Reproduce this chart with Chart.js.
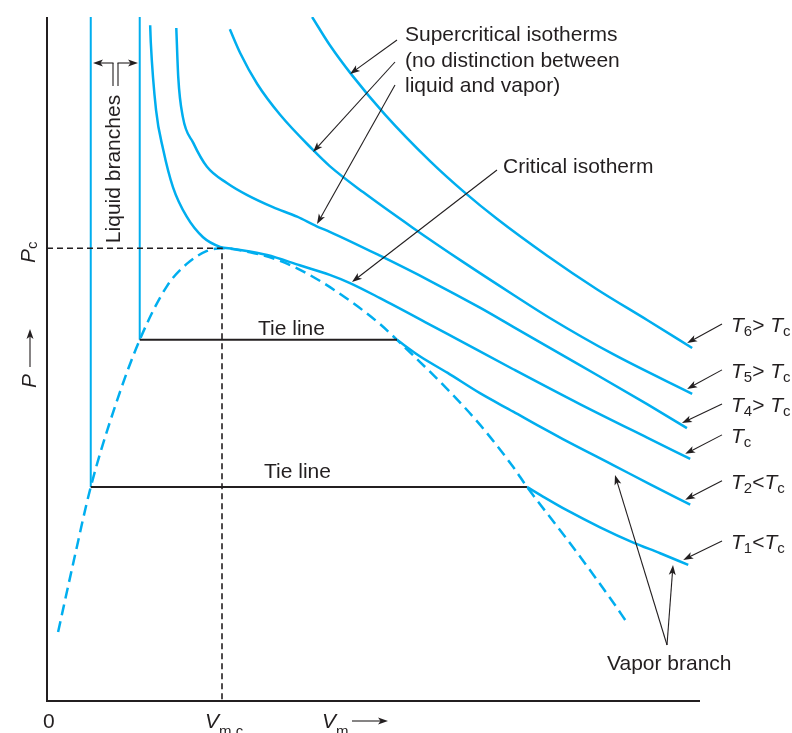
<!DOCTYPE html>
<html>
<head>
<meta charset="utf-8">
<script src="https://cdn.jsdelivr.net/npm/chart.js@4.4.1/dist/chart.umd.min.js"></script>
<style>
  html, body { margin: 0; padding: 0; background: #fff; }
  #wrap { width: 792px; height: 733px; }
</style>
</head>
<body>
<div id="wrap"><canvas id="pv" width="792" height="733"></canvas></div>
<script>
// P-V diagram, arbitrary units: molar volume 0..100, pressure 0..100
const critV = 26.8, critP = 66.2;

// supercritical isotherms
const t6V = [40.6, 43.3, 46.7, 51.8, 58.7, 63.9, 68.9, 76.6, 84.2, 91.9, 98.8];
const t6P = [100, 95.9, 91.5, 85.7, 78.9, 74.4, 70.5, 65.1, 60.2, 55.7, 51.6];
const t5V = [28.0, 29.6, 32.2, 35.7, 40.7, 43.3, 48.4, 56.0, 63.7, 71.4, 77.0, 86.7, 98.8];
const t5P = [98.2, 94.7, 90.2, 85.7, 80.6, 78.2, 74.4, 69.2, 64.2, 59.4, 56.0, 50.7, 44.9];
const t4V = [19.8, 20.1, 20.8, 22.4, 24.5, 27.6, 30.6, 34.6, 38.3, 41.3, 43.3, 51.0, 58.7, 66.3, 71.4, 81.6, 91.9, 98.0];
const t4P = [98.4, 91.2, 85.4, 81.6, 78.1, 75.7, 74.0, 72.2, 70.8, 69.4, 68.6, 65.1, 61.4, 57.5, 54.7, 49.1, 43.4, 39.9];

// critical isotherm
const tcV = [15.8, 15.9, 16.7, 17.8, 19.3, 21.4, 23.9, 26.5, 28.5, 33.7, 38.7, 43.3, 46.4, 51.0, 58.7, 62.8, 71.4, 81.6, 91.9, 98.5];
const tcP = [98.8, 96.2, 86.4, 80.6, 75.1, 70.8, 67.8, 66.4, 66.1, 65.2, 63.7, 62.3, 61.1, 58.9, 55.0, 52.9, 48.5, 43.4, 38.5, 35.4];

// subcritical isotherms: liquid branch volume, tie line pressure, vapor branch
const t2LiqV = 14.2, t2TieP = 52.8;
const t2VapV = [53.6, 57.1, 61.3, 66.3, 71.4, 75.5, 79.0, 86.7, 92.3, 98.5];
const t2VapP = [52.8, 50.4, 48.0, 45.0, 42.3, 40.1, 38.3, 34.5, 31.7, 28.7];
const t1LiqV = 6.7, t1TieP = 31.3;
const t1VapV = [73.5, 76.3, 79.6, 84.7, 89.7, 93.9, 98.2];
const t1VapP = [31.3, 29.7, 27.9, 25.4, 23.2, 21.6, 19.9];

// two-phase dome (dashed)
const domeV = [1.7, 4.1, 6.7, 10.4, 14.2, 18.4, 21.4, 24.5, 26.8, 31.1, 36.1, 41.3, 46.4, 51.0, 53.6, 56.0, 61.3, 66.3, 71.4, 73.5, 79.6, 86.2, 88.8];
const domeP = [10.1, 20.5, 31.3, 43.0, 52.8, 60.7, 63.9, 65.8, 66.2, 65.6, 64.2, 61.7, 58.5, 55.1, 52.8, 50.6, 45.6, 40.4, 34.2, 31.3, 23.7, 15.1, 11.5];

const blue = '#00aeef';
const ink = '#231f20';
const FONT = '"Liberation Sans", Arial, Helvetica, sans-serif';

const pts = (v, p) => v.map((x, i) => ({ x, y: p[i] }));
const line = (data, extra) => Object.assign({
  data, showLine: true, fill: false, pointRadius: 0,
  borderColor: blue, borderWidth: 2.5, cubicInterpolationMode: 'monotone'
}, extra);

// right hand labels, in the same order as the isotherm datasets
const isoLabels = [
  [['T', 1], ['6', 2], ['> ', 0], ['T', 1], ['c', 2]],
  [['T', 1], ['5', 2], ['> ', 0], ['T', 1], ['c', 2]],
  [['T', 1], ['4', 2], ['> ', 0], ['T', 1], ['c', 2]],
  [['T', 1], ['c', 2]],
  [['T', 1], ['2', 2], ['<', 0], ['T', 1], ['c', 2]],
  [['T', 1], ['1', 2], ['<', 0], ['T', 1], ['c', 2]]
];

function rich(ctx, parts, x, y, subDy) {
  parts.forEach(([t, kind]) => {
    const sub = kind === 2;
    ctx.font = (kind === 1 ? 'italic ' : '') + (sub ? 15 : 21) + 'px ' + FONT;
    ctx.fillText(t, x, y + (sub ? subDy : 0));
    x += ctx.measureText(t).width;
  });
}

function arrow(ctx, x1, y1, x2, y2) {
  const a = Math.atan2(y2 - y1, x2 - x1), L = 10, W = 3.5;
  ctx.beginPath();
  ctx.moveTo(x1, y1);
  ctx.lineTo(x2 - Math.cos(a) * L * 0.7, y2 - Math.sin(a) * L * 0.7);
  ctx.stroke();
  ctx.beginPath();
  ctx.moveTo(x2, y2);
  ctx.lineTo(x2 - L * Math.cos(a) + W * Math.sin(a), y2 - L * Math.sin(a) - W * Math.cos(a));
  ctx.lineTo(x2 - L * Math.cos(a) * 0.75, y2 - L * Math.sin(a) * 0.75);
  ctx.lineTo(x2 - L * Math.cos(a) - W * Math.sin(a), y2 - L * Math.sin(a) + W * Math.cos(a));
  ctx.closePath();
  ctx.fill();
}

const annot = {
  id: 'annot',
  beforeDatasetsDraw(chart) {
    const { ctx, scales: { x, y } } = chart;
    ctx.save();
    ctx.strokeStyle = ink;
    ctx.lineWidth = 2;
    ctx.beginPath();
    ctx.moveTo(x.getPixelForValue(0), y.getPixelForValue(100));
    ctx.lineTo(x.getPixelForValue(0), y.getPixelForValue(0));
    ctx.lineTo(x.getPixelForValue(100), y.getPixelForValue(0));
    ctx.stroke();
    ctx.restore();
  },
  afterDatasetsDraw(chart) {
    const { ctx, scales: { x, y } } = chart;
    ctx.save();
    ctx.fillStyle = ink;
    ctx.strokeStyle = ink;
    ctx.lineWidth = 1.1;
    ctx.textBaseline = 'alphabetic';

    // isotherm labels at the right ends
    [t6V, t5V, t4V, tcV, t2VapV, t1VapV].forEach((v, i) => {
      const p = [t6P, t5P, t4P, tcP, t2VapP, t1VapP][i];
      const ex = x.getPixelForValue(v[v.length - 1]) - 5;
      const ey = y.getPixelForValue(p[p.length - 1]) - 5;
      arrow(ctx, 722, ey - 19, ex, ey);
      rich(ctx, isoLabels[i], 731, ey - 11, 4);
    });

    // text annotations
    ctx.font = '21px ' + FONT;
    ctx.fillText('Supercritical isotherms', 405, 41);
    ctx.fillText('(no distinction between', 405, 67);
    ctx.fillText('liquid and vapor)', 405, 92);
    ctx.fillText('Critical isotherm', 503, 173);
    ctx.fillText('Tie line', 258, 335);
    ctx.fillText('Tie line', 264, 478);
    ctx.fillText('Vapor branch', 607, 670);
    ctx.fillText('0', 43, 728);

    arrow(ctx, 397, 40, 350, 74);
    arrow(ctx, 395, 62, 313, 152);
    arrow(ctx, 395, 85, 317, 224);
    arrow(ctx, 497, 170, 352, 282);
    arrow(ctx, 667, 645, 615, 475);
    arrow(ctx, 667, 645, 673, 565);

    // liquid branches bracket
    ctx.beginPath();
    ctx.moveTo(113, 86); ctx.lineTo(113, 63);
    ctx.moveTo(118, 86); ctx.lineTo(118, 63);
    ctx.stroke();
    arrow(ctx, 113.5, 63, 93, 63);
    arrow(ctx, 117.5, 63, 138, 63);

    ctx.save();
    ctx.translate(120, 169);
    ctx.rotate(-Math.PI / 2);
    ctx.textAlign = 'center';
    ctx.font = '21px ' + FONT;
    ctx.fillText('Liquid branches', 0, 0);
    ctx.restore();

    // y axis labels
    ctx.save();
    ctx.translate(35, 263);
    ctx.rotate(-Math.PI / 2);
    rich(ctx, [['P', 1], ['c', 2]], 0, 0, 2);
    ctx.restore();
    ctx.save();
    ctx.translate(36, 388);
    ctx.rotate(-Math.PI / 2);
    rich(ctx, [['P', 1]], 0, 0, 0);
    ctx.restore();
    arrow(ctx, 30, 367, 30, 329);

    // x axis labels
    rich(ctx, [['V', 1], ['m,c', 2]], 205, 728, 8);
    rich(ctx, [['V', 1], ['m', 2]], 322, 728, 8);
    arrow(ctx, 352, 721, 388, 721);
    ctx.restore();
  }
};

new Chart(document.getElementById('pv'), {
  type: 'scatter',
  data: {
    datasets: [
      line([{ x: 0, y: critP }, { x: critV, y: critP }, { x: critV, y: 0 }],
        { borderColor: ink, borderWidth: 1.6, borderDash: [6, 4], cubicInterpolationMode: 'default', tension: 0 }),
      line([{ x: t1LiqV, y: t1TieP }, { x: t1VapV[0], y: t1TieP }],
        { borderColor: ink, borderWidth: 2, tension: 0 }),
      line([{ x: t2LiqV, y: t2TieP }, { x: t2VapV[0], y: t2TieP }],
        { borderColor: ink, borderWidth: 2, tension: 0 }),
      line([{ x: t1LiqV, y: 100 }, { x: t1LiqV, y: t1TieP }], { borderWidth: 2, cubicInterpolationMode: 'default', tension: 0 }),
      line([{ x: t2LiqV, y: 100 }, { x: t2LiqV, y: t2TieP }], { borderWidth: 2, cubicInterpolationMode: 'default', tension: 0 }),
      line(pts(domeV, domeP), { borderDash: [11, 6] }),
      line(pts(t6V, t6P)),
      line(pts(t5V, t5P)),
      line(pts(t4V, t4P)),
      line(pts(tcV, tcP)),
      line(pts(t2VapV, t2VapP)),
      line(pts(t1VapV, t1VapP))
    ]
  },
  options: {
    responsive: false,
    animation: false,
    devicePixelRatio: 1,
    events: [],
    layout: { padding: { left: 47, right: 92, top: 17, bottom: 32 } },
    plugins: { legend: { display: false }, tooltip: { enabled: false } },
    scales: {
      x: { type: 'linear', min: 0, max: 100, display: false },
      y: { type: 'linear', min: 0, max: 100, display: false }
    }
  },
  plugins: [annot]
});
</script>
</body>
</html>
